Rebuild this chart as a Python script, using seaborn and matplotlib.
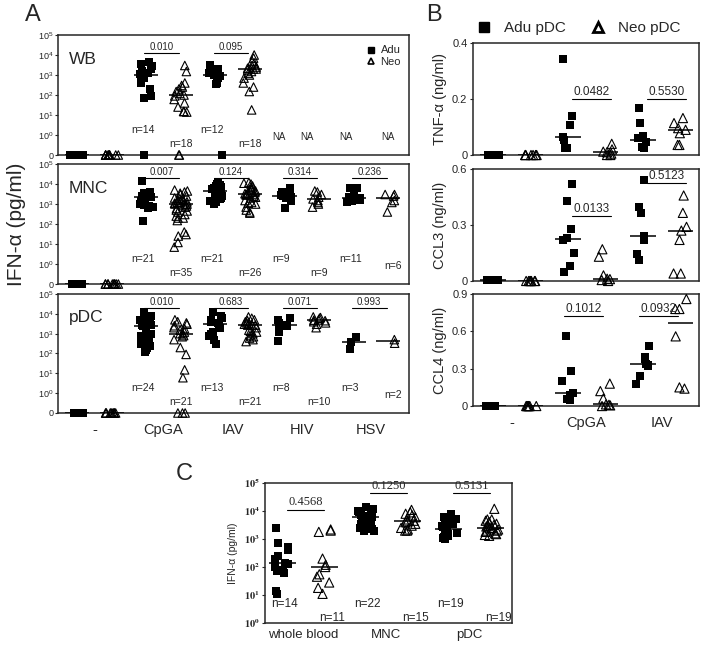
import numpy as np
import pandas as pd
import seaborn as sns
import matplotlib.pyplot as plt
from matplotlib.lines import Line2D

# ---------------- Panel A: IFN-alpha (pg/ml) ----------------
stims_a = ['-', 'CpGA', 'IAV', 'HIV', 'HSV']
donors = ['Adu', 'Neo']

# whole blood
wb_none_adu = [0, 0, 0, 0, 0, 0, 0, 0, 0, 0]
wb_none_neo = [0, 0, 0, 0, 0, 0, 0, 0, 0, 0]
wb_cpga_adu = [4500, 3500, 2800, 2000, 1500, 1200, 1100, 1000, 700, 400, 200, 90, 75, 0]
wb_cpga_neo = [3000, 1500, 400, 300, 250, 200, 150, 120, 100, 90, 60, 40, 25, 15, 15, 14, 0, 0]
wb_iav_adu = [3000, 2500, 2000, 1500, 1200, 1100, 1000, 900, 700, 400, 350, 0]
wb_iav_neo = [10000, 7000, 5000, 4000, 3000, 2500, 2200, 2000, 2000, 1800, 1500, 1200,
              1000, 700, 400, 250, 150, 18]
pvals_wb = ['0.010', '0.095']

# mononuclear cells
mnc_none_adu = [0, 0, 0, 0, 0, 0, 0, 0, 0, 0]
mnc_none_neo = [0, 0, 0, 0, 0, 0, 0, 0, 0, 0]
mnc_cpga_adu = [15000, 4000, 3500, 3200, 3000, 3000, 2800, 2600, 2500, 2400, 2300, 2000,
                1800, 1500, 1200, 1000, 900, 800, 700, 600, 150]
mnc_cpga_neo = [5000, 4500, 4000, 3500, 3000, 2500, 2000, 2000, 1800, 1500, 1500, 1300,
                1200, 1200, 1100, 1000, 1000, 1000, 900, 800, 700, 600, 500, 450, 400,
                300, 250, 200, 200, 150, 40, 30, 25, 12, 7]
mnc_iav_adu = [12000, 10000, 9000, 8000, 7000, 6000, 5500, 5000, 4800, 4500, 4300, 4000,
               3800, 3500, 3000, 2500, 2000, 1800, 1500, 1200, 1000]
mnc_iav_neo = [12000, 11000, 10000, 8000, 7000, 6000, 5000, 4500, 4000, 3800, 3500, 3300,
               3100, 3000, 2800, 2500, 2200, 2000, 1500, 1200, 1100, 1000, 700, 500, 400, 350]
mnc_hiv_adu = [6000, 4000, 3500, 3000, 2600, 2200, 2000, 1500, 600]
mnc_hiv_neo = [4500, 4000, 3000, 2200, 1800, 1500, 1200, 1000, 700]
mnc_hsv_adu = [6500, 6000, 3000, 2500, 2200, 2000, 1900, 1800, 1600, 1500, 1300]
mnc_hsv_neo = [3000, 3000, 2500, 1500, 1200, 400]
pvals_mnc = ['0.007', '0.124', '0.314', '0.236']

# plasmacytoid DC
pdc_none_adu = [0, 0, 0, 0, 0, 0, 0, 0, 0, 0]
pdc_none_neo = [0, 0, 0, 0, 0, 0, 0, 0, 0, 0]
pdc_cpga_adu = [12000, 9000, 8000, 6000, 5000, 4500, 4000, 3500, 3000, 3000, 2800, 2600,
                2400, 1500, 1000, 800, 600, 500, 400, 300, 250, 200, 150, 120]
pdc_cpga_neo = [5000, 4000, 3500, 3000, 2500, 2000, 1800, 1500, 1200, 1000, 1000, 800,
                700, 500, 200, 90, 15, 6, 0, 0, 0]
pdc_iav_adu = [12000, 8000, 6000, 5000, 4000, 3500, 3200, 2000, 1200, 1000, 800, 500, 300]
pdc_iav_neo = [7000, 6000, 5000, 4500, 4000, 3500, 3200, 3000, 2800, 2700, 2700, 2000,
               1500, 1300, 1200, 1000, 800, 700, 600, 500, 400]
pdc_hiv_adu = [6000, 5000, 3500, 2800, 2500, 2500, 1200, 450]
pdc_hiv_neo = [7000, 6500, 6000, 5000, 4800, 4500, 4000, 3500, 3000, 2000]
pdc_hsv_adu = [700, 400, 170]
pdc_hsv_neo = [500, 330]
pvals_pdc = ['0.010', '0.683', '0.071', '0.993']

# ---------------- Panel B: cytokines from pDC (ng/ml) ----------------
stims_b = ['-', 'CpGA', 'IAV']

tnf_none_adu = [0, 0, 0, 0, 0, 0, 0]
tnf_none_neo = [0, 0, 0, 0, 0, 0, 0]
tnf_cpga_adu = [0.344, 0.141, 0.108, 0.066, 0.054, 0.024, 0.024]
tnf_cpga_neo = [0.04, 0.02, 0.012, 0.01, 0.005, 0.0, 0.0]
tnf_iav_adu = [0.168, 0.116, 0.068, 0.06, 0.048, 0.03, 0.03, 0.024]
tnf_iav_neo = [0.132, 0.114, 0.096, 0.09, 0.078, 0.036, 0.036]
pvals_tnf = ['0.0482', '0.5530']
tnf_ticks = [0, 0.2, 0.4]

ccl3_none_adu = [0.006, 0.005, 0.005, 0.004, 0.004, 0.003, 0.003]
ccl3_none_neo = [0, 0, 0, 0, 0, 0, 0]
ccl3_cpga_adu = [0.52, 0.43, 0.28, 0.23, 0.22, 0.15, 0.08, 0.05]
ccl3_cpga_neo = [0.17, 0.13, 0.03, 0.012, 0.01, 0.005, 0.0]
ccl3_iav_adu = [0.54, 0.395, 0.365, 0.243, 0.22, 0.146, 0.114]
ccl3_iav_neo = [0.458, 0.365, 0.29, 0.27, 0.22, 0.04, 0.04]
pvals_ccl3 = ['0.0133', '0.5123']
ccl3_ticks = [0, 0.3, 0.6]

ccl4_none_adu = [0, 0, 0, 0, 0, 0, 0]
ccl4_none_neo = [0, 0, 0, 0, 0, 0, 0]
ccl4_cpga_adu = [0.56, 0.28, 0.2, 0.105, 0.086, 0.06, 0.045]
ccl4_cpga_neo = [0.18, 0.12, 0.06, 0.013, 0.01, 0.005, 0.0]
ccl4_iav_adu = [0.48, 0.395, 0.375, 0.34, 0.33, 0.32, 0.24, 0.175]
ccl4_iav_neo = [0.86, 0.78, 0.78, 0.56, 0.15, 0.14]
pvals_ccl4 = ['0.1012', '0.0932']
ccl4_ticks = [0, 0.3, 0.6, 0.9]

# ---------------- Panel C: IFN-alpha by compartment ----------------
sources_c = ['whole blood', 'MNC', 'pDC']
c_wb_adu = [2500, 750, 500, 420, 250, 200, 140, 130, 100, 80, 70, 60, 14, 11]
c_wb_neo = [2200, 2000, 1800, 200, 120, 100, 55, 45, 28, 18, 11]
c_mnc_adu = [14000, 12000, 10000, 9000, 8000, 7500, 7000, 6500, 6500, 6200, 6100, 6000,
             5500, 5000, 4500, 4000, 3500, 3000, 2500, 2200, 2000, 1900]
c_mnc_neo = [11000, 9000, 8000, 7000, 6000, 5000, 4500, 4300, 4000, 3500, 3000, 2500,
             2200, 2000, 2000]
c_pdc_adu = [8000, 6000, 5000, 4500, 4000, 3500, 3000, 2800, 2500, 2300, 2200, 2000,
             1800, 1600, 1500, 1300, 1200, 1100, 1000]
c_pdc_neo = [12000, 5000, 5000, 4500, 4000, 3500, 3200, 3000, 2800, 2500, 2400, 2200,
             2000, 2000, 1800, 1600, 1500, 1400, 1300]
pvals_c = ['0.4568', '0.1250', '0.5131']


def long_table(groups):
    """Turn (stimulus, donor, values) triples into a long DataFrame."""
    rows = [(f'{s} {d}', d, v) for s, d, vals in groups for v in vals]
    return pd.DataFrame(rows, columns=['cond', 'donor', 'value'])


def dot_panel(ax, df, order, size=5.5, jitter=0.2, med_w=0.7):
    """Filled squares for adults, open triangles for neonates, median bars."""
    sns.stripplot(data=df[df.donor == 'Adu'], x='cond', y='value', order=order,
                  marker='s', color='black', size=size, jitter=jitter, linewidth=0,
                  zorder=3, ax=ax)
    n_before = len(ax.collections)
    sns.stripplot(data=df[df.donor == 'Neo'], x='cond', y='value', order=order,
                  marker='^', color='white', edgecolor='black', linewidth=0.8,
                  size=size + 0.6, jitter=jitter, zorder=3, ax=ax)
    for coll in ax.collections[n_before:]:
        coll.set_facecolor('none')
    # let points sitting on the zero line spill over the spine
    for coll in ax.collections:
        if len(coll.get_offsets()) > 0:
            coll.set_clip_on(False)

    # median bars
    meds = df.groupby('cond')['value'].median()
    for i, cond in enumerate(order):
        if cond in meds.index:
            ax.hlines(meds[cond], i - med_w / 2, i + med_w / 2, color='black', lw=1.1, zorder=4)
    ax.set_xlabel('')
    ax.set_ylabel('')
    for s in ax.spines.values():
        s.set_linewidth(1.1)


def ifn_panel(ax, groups, pvals, name, p_y, bottom=False):
    df = long_table(groups)
    order = [f'{s} {d}' for s in stims_a for d in donors]
    dot_panel(ax, df, order)

    ax.set_yscale('symlog', linthresh=1, linscale=0.9)
    ax.set_ylim(0, 1e5)
    ax.set_xlim(-0.55, 9.6)
    ax.set_yticks([0, 1, 10, 100, 1e3, 1e4, 1e5],
                  ['0'] + [f'$10^{k}$' for k in range(6)], fontsize=6.5)
    ax.yaxis.set_minor_locator(plt.NullLocator())
    ax.tick_params(axis='y', length=2.5, width=0.8, pad=1)

    if bottom:
        ax.set_xticks([0.5, 2.5, 4.5, 6.5, 8.5], stims_a, fontsize=10.5)
        ax.tick_params(axis='x', length=0, pad=7)
    else:
        ax.set_xticks([])

    trans = ax.get_xaxis_transform()
    ax.text(0.03, 0.8, name, transform=ax.transAxes, fontsize=12.5, va='center')

    # sample sizes
    for s, d, vals in groups:
        if s == '-':
            continue
        i = order.index(f'{s} {d}')
        if d == 'Adu':
            x, y = i - 0.1, 0.21
        elif s == 'HSV':
            x, y = i + 0.15, 0.15
        else:
            x, y = i, 0.09
        ax.text(x, y, f'n={len(vals)}', transform=trans, fontsize=7.5,
                ha='center', va='center')

    # p-values between adult and neonatal groups
    for s, p in zip(stims_a[1:], pvals):
        i = order.index(f'{s} Adu')
        ax.plot([i - 0.05, i + 0.95], [p_y, p_y], transform=trans, color='black', lw=0.8)
        ax.text(i + 0.45, p_y + 0.012, p, transform=trans, fontsize=7,
                ha='center', va='bottom')


def cyto_panel(ax, groups, pvals, p_ys, shift, ylabel, ticks, bottom=False):
    df = long_table(groups)
    order = [f'{s} {d}' for s in stims_b for d in donors]
    dot_panel(ax, df, order, size=6, jitter=0.18, med_w=0.68)

    ax.set_xlim(-0.53, 5.5)
    ax.set_ylim(0, ticks[-1])
    ax.set_yticks(ticks, [f'{t:g}' for t in ticks], fontsize=8)
    ax.tick_params(axis='y', length=2.5, width=0.8, pad=1.5)
    ax.set_ylabel(ylabel, fontsize=10.5, labelpad=4)

    if bottom:
        ax.set_xticks([0.5, 2.5, 4.5], stims_b, fontsize=10.5)
        ax.tick_params(axis='x', length=0, pad=7)
    else:
        ax.set_xticks([])

    for s, p, y in zip(stims_b[1:], pvals, p_ys):
        i = order.index(f'{s} Adu')
        x0, x1 = i + shift, i + shift + 1.05
        ax.plot([x0, x1], [y, y], color='black', lw=0.8)
        ax.annotate(p, xy=((x0 + x1) / 2, y), xytext=(0, 1), textcoords='offset points',
                    ha='center', va='bottom', fontsize=8.5)


sns.set_style('ticks')
plt.rcParams['font.family'] = ['Liberation Sans', 'DejaVu Sans']
plt.rcParams['mathtext.fontset'] = 'custom'
plt.rcParams['mathtext.rm'] = 'Liberation Sans'
plt.rcParams['mathtext.it'] = 'Liberation Sans:italic'
plt.rcParams['mathtext.bf'] = 'Liberation Sans:bold'
np.random.seed(11)

fig = plt.figure(figsize=(7.04, 6.51), dpi=100)

# ---- Panel A ----
ax_wb = fig.add_axes([0.0824, 0.7619, 0.4986, 0.1843])
ax_mnc = fig.add_axes([0.0824, 0.5637, 0.4986, 0.1843])
ax_pdc = fig.add_axes([0.0824, 0.3656, 0.4986, 0.1828])

ifn_panel(ax_wb, [('-', 'Adu', wb_none_adu), ('-', 'Neo', wb_none_neo),
                  ('CpGA', 'Adu', wb_cpga_adu), ('CpGA', 'Neo', wb_cpga_neo),
                  ('IAV', 'Adu', wb_iav_adu), ('IAV', 'Neo', wb_iav_neo)],
          pvals_wb, 'WB', 0.85)
ifn_panel(ax_mnc, [('-', 'Adu', mnc_none_adu), ('-', 'Neo', mnc_none_neo),
                   ('CpGA', 'Adu', mnc_cpga_adu), ('CpGA', 'Neo', mnc_cpga_neo),
                   ('IAV', 'Adu', mnc_iav_adu), ('IAV', 'Neo', mnc_iav_neo),
                   ('HIV', 'Adu', mnc_hiv_adu), ('HIV', 'Neo', mnc_hiv_neo),
                   ('HSV', 'Adu', mnc_hsv_adu), ('HSV', 'Neo', mnc_hsv_neo)],
          pvals_mnc, 'MNC', 0.88)
ifn_panel(ax_pdc, [('-', 'Adu', pdc_none_adu), ('-', 'Neo', pdc_none_neo),
                   ('CpGA', 'Adu', pdc_cpga_adu), ('CpGA', 'Neo', pdc_cpga_neo),
                   ('IAV', 'Adu', pdc_iav_adu), ('IAV', 'Neo', pdc_iav_neo),
                   ('HIV', 'Adu', pdc_hiv_adu), ('HIV', 'Neo', pdc_hiv_neo),
                   ('HSV', 'Adu', pdc_hsv_adu), ('HSV', 'Neo', pdc_hsv_neo)],
          pvals_pdc, 'pDC', 0.88, bottom=True)

# whole blood was not tested with HIV / HSV
for x in [5.84, 6.65, 7.77, 9.0]:
    ax_wb.text(x, 0.15, 'NA', transform=ax_wb.get_xaxis_transform(), fontsize=7,
               ha='center', va='center')

leg_a = [Line2D([], [], marker='s', color='black', ls='', ms=4, label='Adu'),
         Line2D([], [], marker='^', mfc='none', mec='black', mew=1.2, ls='', ms=4.5, label='Neo')]
ax_wb.legend(handles=leg_a, loc='upper right', bbox_to_anchor=(0.99, 0.95), frameon=False,
             fontsize=8, handlelength=0.7, handletextpad=0.5, labelspacing=0.15,
             borderaxespad=0)

fig.text(0.024, 0.655, 'IFN-α (pg/ml)', rotation=90, fontsize=15, ha='center', va='center')

# ---- Panel B ----
ax_tnf = fig.add_axes([0.6719, 0.7619, 0.321, 0.172])
ax_ccl3 = fig.add_axes([0.6719, 0.5684, 0.321, 0.172])
ax_ccl4 = fig.add_axes([0.6719, 0.3763, 0.321, 0.172])

cyto_panel(ax_tnf, [('-', 'Adu', tnf_none_adu), ('-', 'Neo', tnf_none_neo),
                    ('CpGA', 'Adu', tnf_cpga_adu), ('CpGA', 'Neo', tnf_cpga_neo),
                    ('IAV', 'Adu', tnf_iav_adu), ('IAV', 'Neo', tnf_iav_neo)],
           pvals_tnf, [0.2, 0.2], 0.1, 'TNF-α (ng/ml)', tnf_ticks)
cyto_panel(ax_ccl3, [('-', 'Adu', ccl3_none_adu), ('-', 'Neo', ccl3_none_neo),
                     ('CpGA', 'Adu', ccl3_cpga_adu), ('CpGA', 'Neo', ccl3_cpga_neo),
                     ('IAV', 'Adu', ccl3_iav_adu), ('IAV', 'Neo', ccl3_iav_neo)],
           pvals_ccl3, [0.348, 0.525], 0.1, 'CCL3 (ng/ml)', ccl3_ticks)
cyto_panel(ax_ccl4, [('-', 'Adu', ccl4_none_adu), ('-', 'Neo', ccl4_none_neo),
                     ('CpGA', 'Adu', ccl4_cpga_adu), ('CpGA', 'Neo', ccl4_cpga_neo),
                     ('IAV', 'Adu', ccl4_iav_adu), ('IAV', 'Neo', ccl4_iav_neo)],
           pvals_ccl4, [0.72, 0.72], -0.1, 'CCL4 (ng/ml)', ccl4_ticks, bottom=True)

leg_b = [Line2D([], [], marker='s', color='black', ls='', ms=7, label='Adu pDC'),
         Line2D([], [], marker='^', mfc='none', mec='black', mew=2, ls='', ms=7, label='Neo pDC')]
fig.legend(handles=leg_b, loc='center', bbox_to_anchor=(0.822, 0.957), ncol=2,
           frameon=False, fontsize=11, handlelength=1, handletextpad=0.8, columnspacing=1.6)

# ---- Panel C ----
ax_c = fig.add_axes([0.3764, 0.043, 0.3509, 0.215])
groups_c = [('whole blood', 'Adu', c_wb_adu), ('whole blood', 'Neo', c_wb_neo),
            ('MNC', 'Adu', c_mnc_adu), ('MNC', 'Neo', c_mnc_neo),
            ('pDC', 'Adu', c_pdc_adu), ('pDC', 'Neo', c_pdc_neo)]
df_c = long_table(groups_c)
order_c = [f'{s} {d}' for s in sources_c for d in donors]
dot_panel(ax_c, df_c, order_c, size=6, jitter=0.2, med_w=0.65)
ax_c.set_yscale('log')
ax_c.set_ylim(1, 1e5)
ax_c.set_xlim(-0.43, 5.53)
ax_c.set_yticks([1, 10, 100, 1e3, 1e4, 1e5], [f'$\\mathbf{{10^{k}}}$' for k in range(6)],
                fontsize=7.5, math_fontfamily='stix')
ax_c.yaxis.set_minor_locator(plt.NullLocator())
ax_c.tick_params(axis='y', length=2.5, width=0.8, pad=1)
ax_c.set_xticks([0.5, 2.5, 4.5], sources_c, fontsize=9.5)
ax_c.tick_params(axis='x', length=0, pad=4)
ax_c.set_ylabel('IFN-α (pg/ml)', fontsize=7.5, labelpad=4)

trans_c = ax_c.get_xaxis_transform()
for s, d, vals in groups_c:
    i = order_c.index(f'{s} {d}')
    x, y = (i + 0.05, 0.136) if d == 'Adu' else (i + 0.2, 0.036)
    ax_c.text(x, y, f'n={len(vals)}', transform=trans_c, fontsize=8.5, ha='center', va='center')

for s, p, y in zip(sources_c, pvals_c, [1.1e4, 4.4e4, 4.4e4]):
    i = order_c.index(f'{s} Adu')
    ax_c.plot([i + 0.1, i + 1.0], [y, y], color='black', lw=0.8)
    ax_c.annotate(p, xy=(i + 0.55, y), xytext=(0, 1), textcoords='offset points',
                  ha='center', va='bottom', fontsize=9, family='Liberation Serif')

# panel letters
fig.text(0.036, 0.977, 'A', fontsize=17, va='center')
fig.text(0.606, 0.977, 'B', fontsize=17, va='center')
fig.text(0.250, 0.272, 'C', fontsize=17, va='center')

plt.savefig('out.png', dpi=100)
